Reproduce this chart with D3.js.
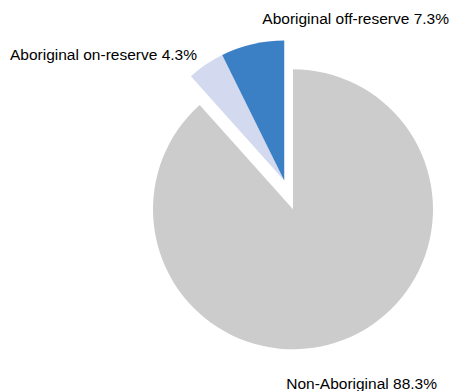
<!DOCTYPE html>
<html>
<head>
<meta charset="utf-8">
<script src="https://cdn.jsdelivr.net/npm/d3@7"></script>
<style>
  html, body { margin: 0; padding: 0; background: #fff; }
  svg { display: block; }
  text { font-family: "Liberation Sans", Arial, sans-serif; font-size: 15.5px; fill: #000; }
</style>
</head>
<body>
<svg id="chart" width="452" height="391"></svg>
<script>
// Population shares by group
const categories = ["Non-Aboriginal", "Aboriginal on-reserve", "Aboriginal off-reserve"];
const shares = [88.3, 4.3, 7.3];
const colors = ["#cccccc", "#d3d9ee", "#3b80c5"];
const exploded = [false, true, true];

const width = 452, height = 391;
const cx = 293, cy = 209.3, radius = 140;
// Pulled-out slices move together by this distance along this direction (degrees clockwise from 12 o'clock)
const explodeDist = 30, explodeAngle = 343 * Math.PI / 180;

const svg = d3.select("#chart");

const pie = d3.pie().sort(null).value(d => d.value);
const arcs = pie(categories.map((c, i) => ({ name: c, value: shares[i], color: colors[i], out: exploded[i] })));
const arc = d3.arc().innerRadius(0).outerRadius(radius);

const dx = Math.sin(explodeAngle) * explodeDist, dy = -Math.cos(explodeAngle) * explodeDist;

const g = svg.append("g").attr("transform", `translate(${cx},${cy})`);
g.selectAll("path")
  .data(arcs)
  .join("path")
  .attr("d", arc)
  .attr("fill", d => d.data.color)
  .attr("transform", d => d.data.out ? `translate(${dx},${dy})` : null);

// Slice labels
const labels = [
  { i: 2, x: 449, y: 24, anchor: "end" },
  { i: 1, x: 10, y: 59.5, anchor: "start" },
  { i: 0, x: 437, y: 389, anchor: "end" }
];
svg.selectAll("text.lbl")
  .data(labels)
  .join("text")
  .attr("class", "lbl")
  .attr("x", d => d.x)
  .attr("y", d => d.y)
  .attr("text-anchor", d => d.anchor)
  .text(d => `${categories[d.i]} ${shares[d.i].toFixed(1)}%`);
</script>
</body>
</html>
